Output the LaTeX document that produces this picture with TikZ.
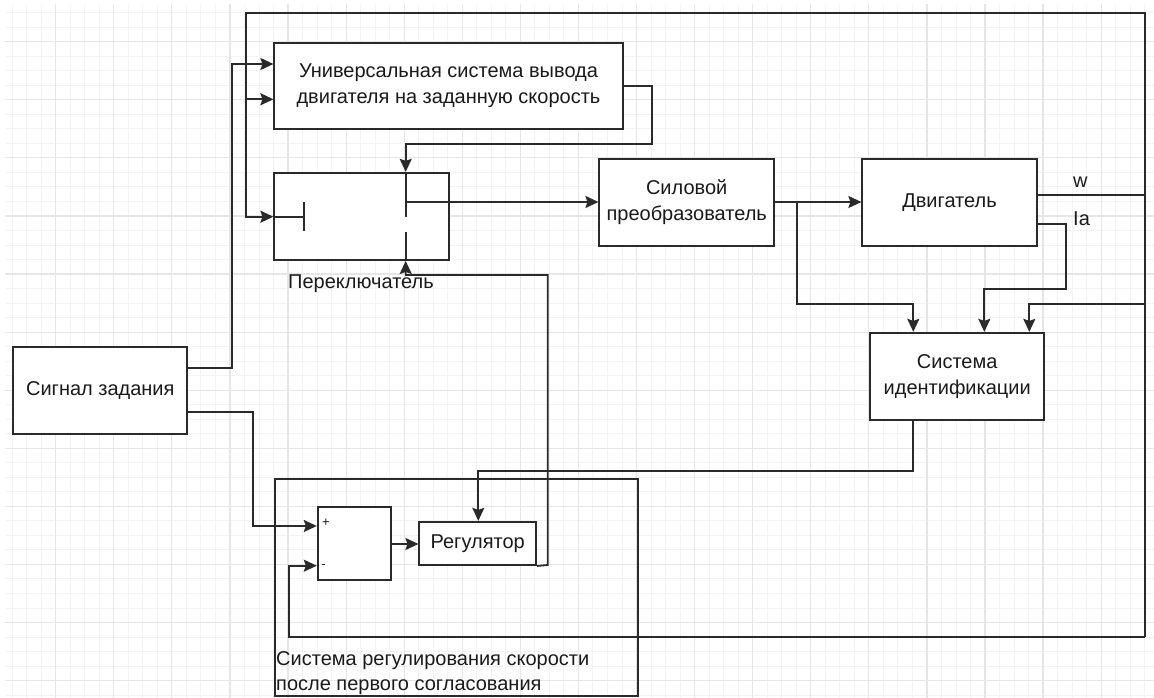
\documentclass[tikz,border=0pt]{standalone}
\usepackage{fontspec}
\setmainfont{Liberation Sans}
\usetikzlibrary{arrows.meta}
\definecolor{linec}{HTML}{2A2A2A}
\definecolor{textc}{HTML}{1A1A1A}
\definecolor{gridminor}{HTML}{F3F3F3}
\definecolor{gridmajor}{HTML}{E6E6E6}
\begin{document}
\begin{tikzpicture}[x=1pt,y=-1pt,
  wire/.style={draw=linec, line width=1.8pt},
  arr/.style={wire, -{Stealth[length=13pt,width=12pt,inset=2pt]}},
  box/.style={draw=linec, line width=1.8pt, fill=white, inner sep=0pt, align=center,
              font=\fontsize{20}{26}\selectfont, text=textc},
  frame/.style={draw=linec, line width=1.8pt, inner sep=0pt},
  lbl/.style={inner sep=0pt, font=\fontsize{20}{26}\selectfont, text=textc},
  sml/.style={inner sep=0pt, font=\fontsize{13}{15}\selectfont, text=textc},
  minorline/.style={draw=gridminor, line width=0.9pt},
  majorline/.style={draw=gridmajor, line width=1.2pt}]
% canvas
\useasboundingbox (0,0) rectangle (1154,698);
\fill[white] (0,0) rectangle (1154,698);
\begin{scope}
\clip (5,4) rectangle (1154,698);
\foreach \i in {-3,...,76} { \draw[minorline] ({55.7+14.52*\i},4) -- ({55.7+14.52*\i},698); }
\foreach \i in {-2,...,45} { \draw[minorline] (5,{41.7+14.52*\i}) -- (1154,{41.7+14.52*\i}); }
\foreach \i in {0,...,19} { \draw[majorline] ({55.7+58.08*\i},4) -- ({55.7+58.08*\i},698); }
\foreach \i in {0,...,11} { \draw[majorline] (5,{41.7+58.08*\i}) -- (1154,{41.7+58.08*\i}); }
\end{scope}

% outer frame of the speed control system
\node[frame, minimum width=362.7, minimum height=217] (outer) at (456.4,587.5) {};

% blocks
\node[box, minimum width=174, minimum height=87] (sig) at (100.3,390.8) {Сигнал задания};
\node[box, minimum width=348.4, minimum height=86.6] (uni) at (448.5,86)
  {Универсальная система вывода\\двигателя на заданную скорость};
\node[box, minimum width=174.4, minimum height=87.3] (sw) at (361.5,216.4) {};
\node[box, minimum width=174.7, minimum height=86.7] (conv) at (686.7,202.5) {Силовой\\преобразователь};
\node[box, minimum width=174.4, minimum height=87] (motor) at (949.5,202.5) {Двигатель};
\node[box, minimum width=174.3, minimum height=87.3] (ident) at (957.2,376.4) {Система\\идентификации};
\node[box, minimum width=73, minimum height=72.7] (sum) at (354.2,543.7) {};
\node[box, minimum width=116.7, minimum height=43.3] (reg) at (477.7,543.4) {Регулятор};

% labels
\node[lbl, anchor=base west] (swl) at (288,288) {Переключатель};
\node[lbl, anchor=base west] (wl) at (1073,187) {w};
\node[lbl, anchor=base west] (ial) at (1073,225) {Ia};
\node[sml] (plus) at (325.8,522.5) {+};
\node[sml] (minus) at (323.5,566.5) {-};
\node[lbl, anchor=base west] (ol1) at (276,665) {Система регулирования скорости};
\node[lbl, anchor=base west] (ol2) at (276,690) {после первого согласования};

% switch internals
\draw[wire] (sw.west |- 0,216.7) -- (304,216.7);
\draw[wire] (304,202.3) -- (304,231);
\draw[wire] (sw.north -| 405.7,0) -- (405.7,216.7);
\draw[wire] (405.7,231.7) -- (sw.south -| 405.7,0);

% connectors
\draw[arr] (sig.east |- 0,368.3) -| (232,64) -- (uni.west |- 0,64);
\draw[arr] (sig.east |- 0,412.3) -| (253,526) -- (sum.west |- 0,526);
\draw[wire] (motor.east |- 0,195) -- (1145,195);
\draw[arr] (1145,637) -- (1145,13.3) -| (245.7,216.7) -- (sw.west |- 0,216.7);
\draw[arr] (245.7,99.3) -- (uni.west |- 0,99.3);
\draw[arr] (1145,304) -| (ident.north -| 1029.3,0);
\draw[arr] (1145,637) -| (289,565.7) -- (sum.west |- 0,565.7);
\draw[arr] (uni.east) -| (651.7,144) -| (sw.north -| 405.7,0);
\draw[arr] (405.7,202) -- (conv.west |- 0,202);
\draw[arr] (conv.east |- 0,202) -- (motor.west |- 0,202);
\draw[arr] (797.3,202) |- (913.3,304) -- (ident.north -| 913.3,0);
\draw[arr] (motor.east |- 0,224) -| (1065.7,289) -| (ident.north -| 984.3,0);
\draw[arr] (ident.south -| 913.3,0) |- (478.3,470.7) -- (reg.north -| 478.3,0);
\draw[arr] (sum.east |- 0,544) -- (reg.west |- 0,544);
\draw[arr] (reg.south east) -- (547.7,565) |- (405.7,275) -- (sw.south -| 405.7,0);
\end{tikzpicture}
\end{document}
